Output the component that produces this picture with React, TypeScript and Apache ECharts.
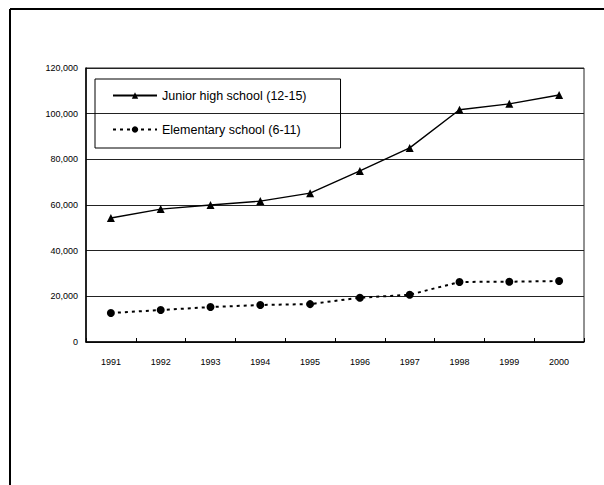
import React, { useEffect, useRef } from "react";
import * as echarts from "echarts";

const years = ["1991", "1992", "1993", "1994", "1995", "1996", "1997", "1998", "1999", "2000"];
const juniorHigh = [54300, 58200, 60000, 61700, 65200, 74900, 85000, 101700, 104300, 108200];
const elementary = [12700, 14000, 15300, 16200, 16600, 19400, 20700, 26300, 26400, 26700];
const seriesNames = ["Junior high school (12-15)", "Elementary school (6-11)"];

export default function App() {
  const ref = useRef<HTMLDivElement>(null);
  useEffect(() => {
    if (!ref.current) return;
    const chart = echarts.init(ref.current, null, { renderer: "svg" });
    chart.setOption({
      animation: false,
      backgroundColor: "#fff",
      grid: {
        left: 86,
        top: 68,
        right: 20,
        bottom: 143,
        show: true,
        borderColor: "#222",
        borderWidth: 1,
      },
      legend: {
        orient: "vertical",
        left: 95,
        top: 79,
        data: seriesNames,
        borderColor: "#000",
        borderWidth: 1,
        padding: [10, 34, 12, 17],
        itemWidth: 44,
        itemHeight: 8,
        itemGap: 21,
        textStyle: { fontFamily: "Liberation Sans, Arial", fontSize: 12.5, color: "#000" },
      },
      xAxis: {
        type: "category",
        data: years,
        boundaryGap: true,
        axisLine: { lineStyle: { color: "#000", width: 1.5 } },
        axisTick: { show: true, inside: true, length: 4, lineStyle: { color: "#000" } },
        axisLabel: {
          margin: 15,
          fontFamily: "Liberation Sans Narrow, Liberation Sans, Arial",
          fontSize: 9,
          color: "#000",
        },
      },
      yAxis: {
        type: "value",
        min: 0,
        max: 120000,
        interval: 20000,
        axisLine: { show: true, lineStyle: { color: "#000", width: 1.5 } },
        axisTick: { show: false },
        splitLine: { show: true, lineStyle: { color: "#222", width: 1.2 } },
        axisLabel: {
          margin: 8,
          fontFamily: "Liberation Sans Narrow, Liberation Sans, Arial",
          fontSize: 9,
          color: "#000",
          formatter: (v: number) => v.toLocaleString("en-US"),
        },
      },
      series: [
        {
          name: seriesNames[0],
          type: "line",
          data: juniorHigh,
          symbol: "triangle",
          symbolSize: 8,
          itemStyle: { color: "#000" },
          lineStyle: { color: "#000", width: 1.4 },
        },
        {
          name: seriesNames[1],
          type: "line",
          data: elementary,
          symbol: "circle",
          symbolSize: 8,
          itemStyle: { color: "#000" },
          lineStyle: { color: "#000", width: 2, type: [3, 4] },
        },
      ],
      graphic: [
        { type: "line", shape: { x1: 10, y1: 9, x2: 604, y2: 9 }, style: { stroke: "#000", lineWidth: 2 } },
        { type: "line", shape: { x1: 10, y1: 9, x2: 10, y2: 485 }, style: { stroke: "#000", lineWidth: 2 } },
      ],
    });
    return () => chart.dispose();
  }, []);
  return (
    <div
      ref={ref}
      style={{ position: "fixed", left: 0, top: 0, width: 604, height: 485 }}
    />
  );
}
